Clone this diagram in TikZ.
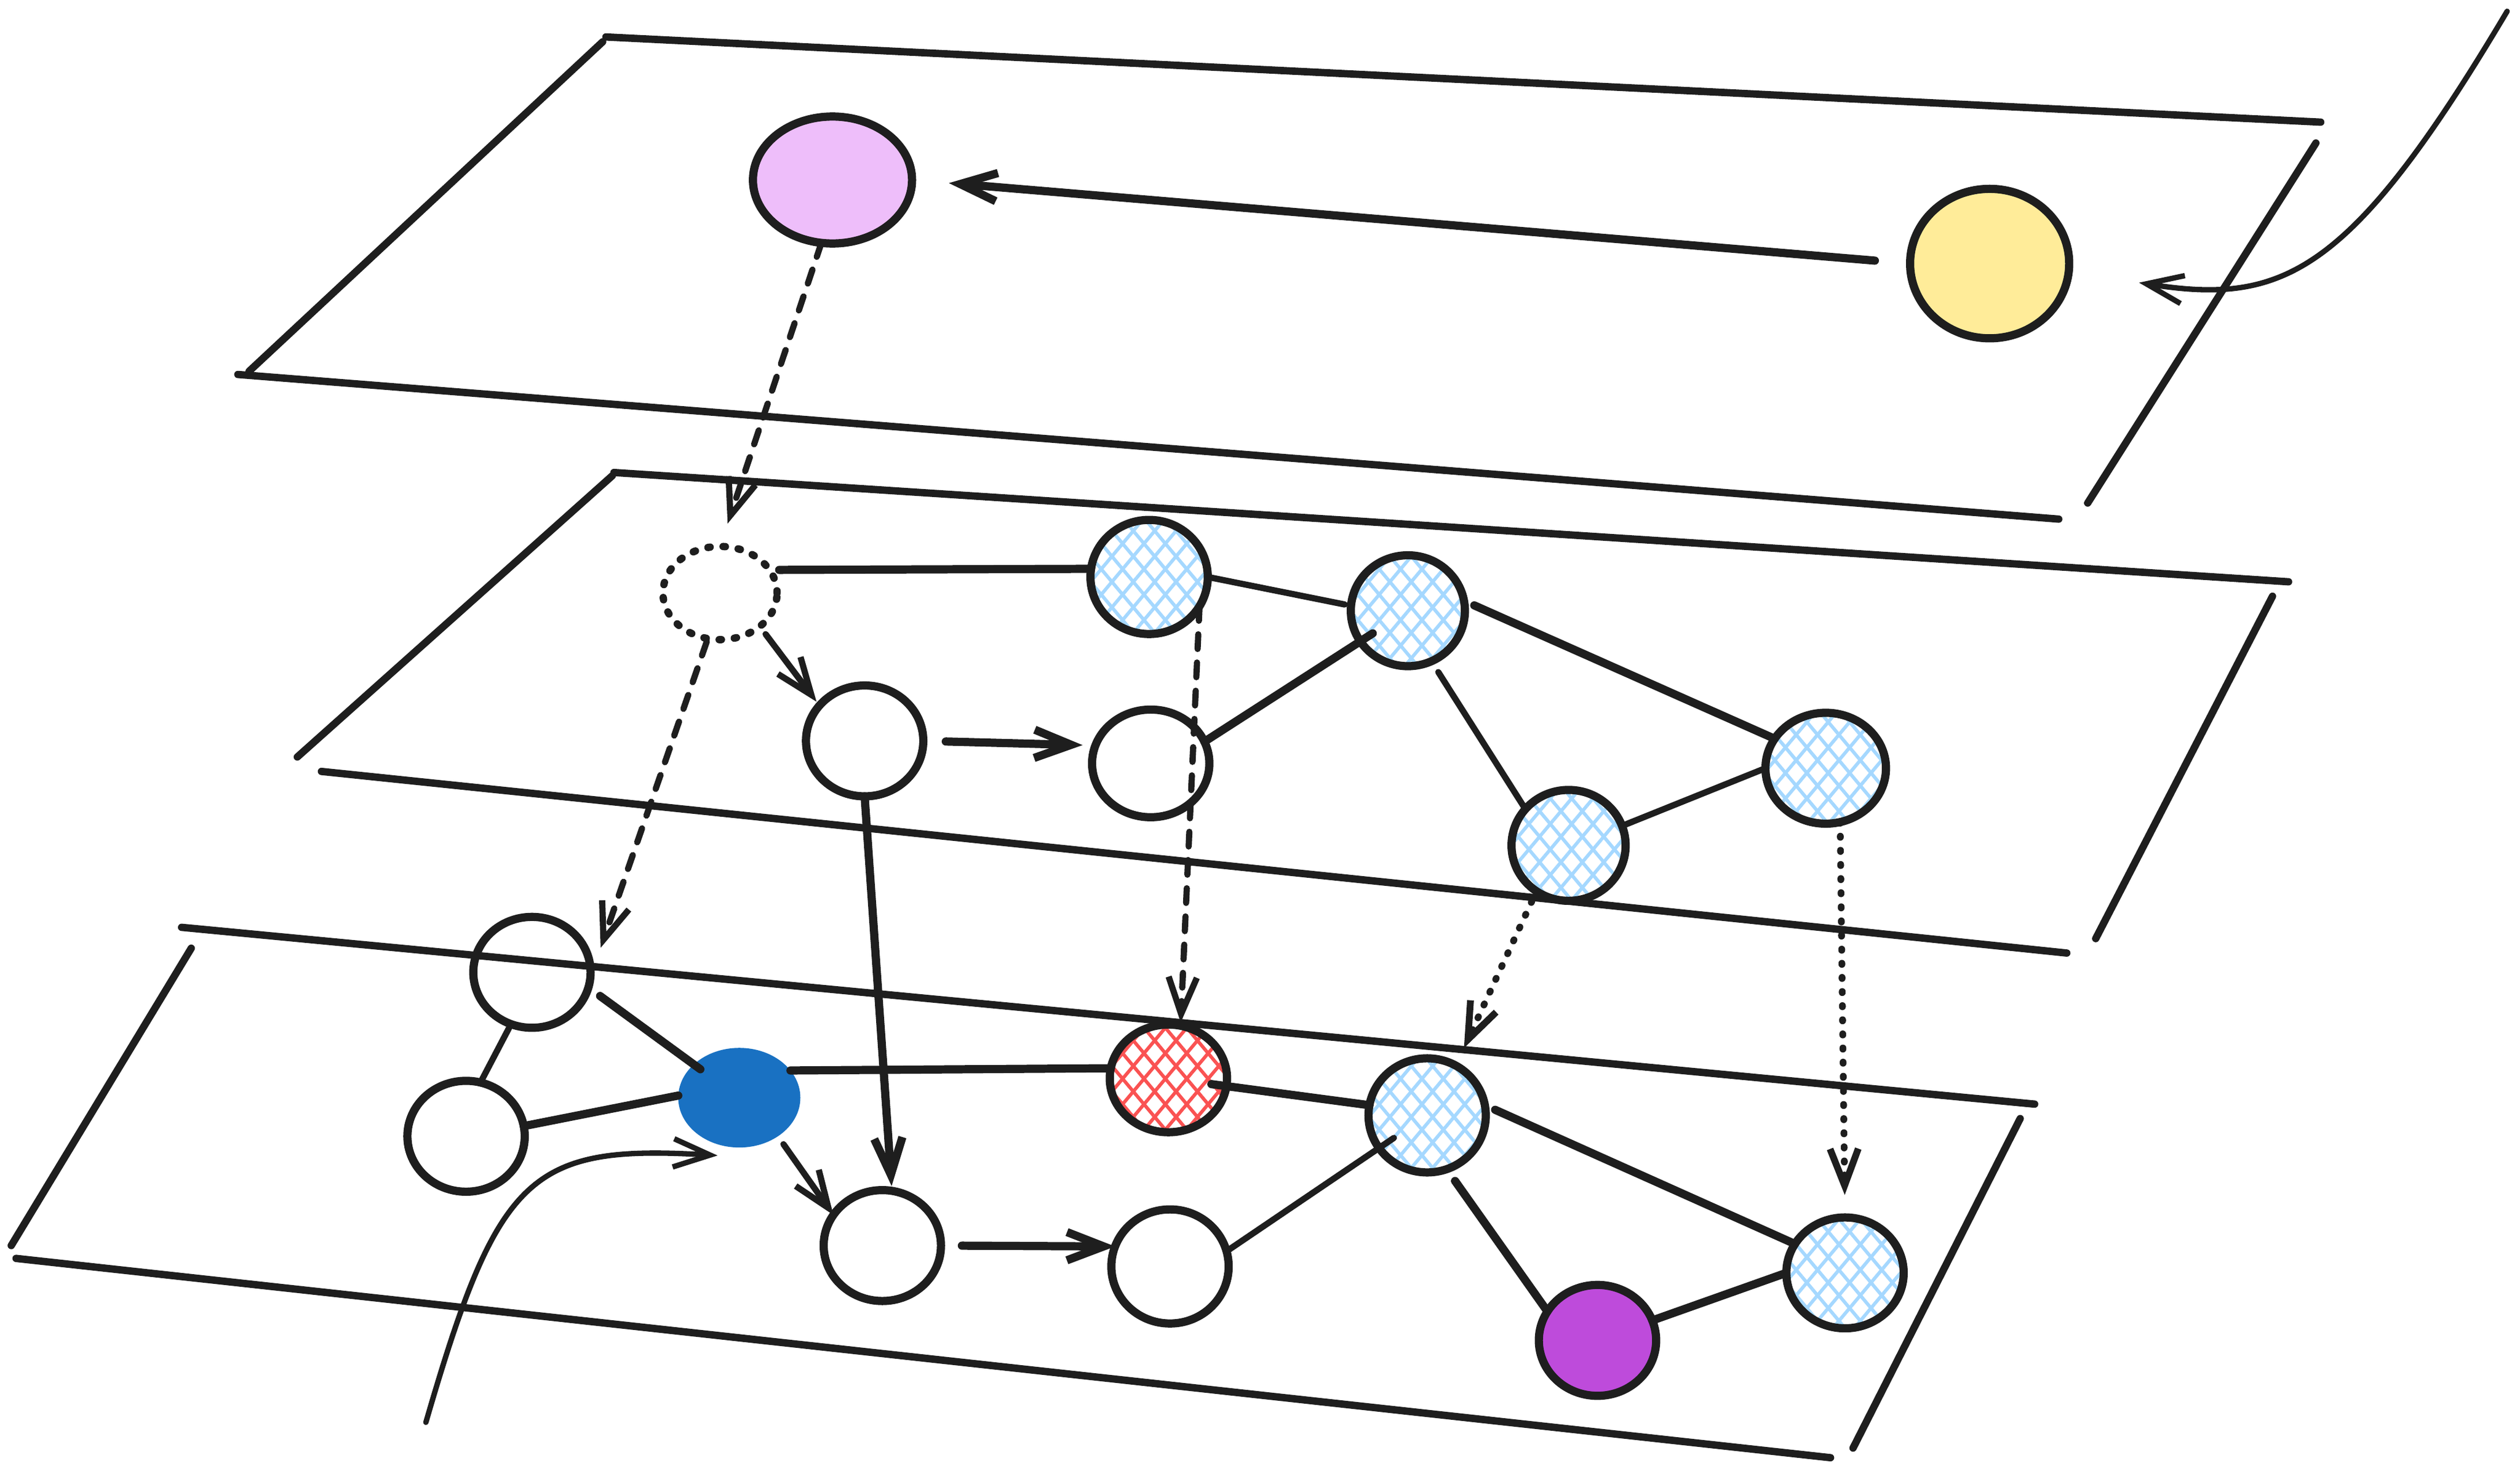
\documentclass[tikz,border=0pt]{standalone}
\usetikzlibrary{arrows.meta,shapes.geometric,patterns.meta}
\definecolor{ink}{HTML}{1E1E1E}
\definecolor{pinkfill}{HTML}{EEBEFA}
\definecolor{yellowfill}{HTML}{FFEC99}
\definecolor{bluefill}{HTML}{1971C2}
\definecolor{purplefill}{HTML}{BE4BDB}
\definecolor{hatchblue}{HTML}{A5D8FF}
\definecolor{hatchred}{HTML}{FA5252}
\begin{document}
\begin{tikzpicture}[x=0.1mm,y=-0.1mm,line cap=round,line join=round,
  planeedge/.style={draw=ink,line width=1.3pt},
  nd/.style={ellipse,draw=ink,line width=1.45pt,inner sep=0pt,outer sep=0pt},
  hatchb/.style={nd,
    preaction={pattern={Lines[angle=50,distance=2.9pt,line width=0.6pt]},pattern color=hatchblue},
    preaction={pattern={Lines[angle=-50,distance=2.9pt,line width=0.6pt]},pattern color=hatchblue}},
  hatchr/.style={nd,
    preaction={pattern={Lines[angle=50,distance=2.9pt,line width=0.6pt]},pattern color=hatchred},
    preaction={pattern={Lines[angle=-50,distance=2.9pt,line width=0.6pt]},pattern color=hatchred}},
  dotcirc/.style={nd,dash pattern=on 0.4pt off 2.3pt,line width=1.3pt},
  cn/.style={draw=ink,line width=1.1pt},
  thincn/.style={draw=ink,line width=0.95pt},
  thickcn/.style={draw=ink,line width=1.45pt},
  arrowend/.style={-{Straight Barb[length=6.5pt,width=5pt]}},
  dsh/.style={dash pattern=on 2.6pt off 2.4pt},
  dts/.style={dash pattern=on 0.2pt off 2.3pt,line width=1.2pt}]
\useasboundingbox (0,0) rectangle (1568,917);

% ---- top plane
\draw[planeedge] (377,23) -- (1444,76);
\draw[planeedge] (375,26) -- (155,231);
\draw[planeedge] (148,233) -- (1281,323);
\draw[planeedge] (1441,89) -- (1299,313);
% ---- middle plane
\draw[planeedge] (382,294) -- (1424,362);
\draw[planeedge] (381,296) -- (185,471);
\draw[planeedge] (200,480) -- (1286,593);
\draw[planeedge] (1414,371) -- (1304,584);
% ---- lower plane
\draw[planeedge] (113,577) -- (1266,687);
\draw[planeedge] (119,590) -- (7,775);
\draw[planeedge] (10,783) -- (1139,907);
\draw[planeedge] (1257,696) -- (1153,901);

% ---- nodes, top layer
\node[nd,fill=pinkfill,minimum width=9.9mm,minimum height=7.9mm] (P) at (518,112) {};
\node[nd,fill=yellowfill,minimum width=9.9mm,minimum height=9.3mm] (Y) at (1238,164) {};
% ---- nodes, middle layer
\node[dotcirc,minimum width=7.1mm,minimum height=5.8mm] (Dm) at (448,369) {};
\node[hatchb,minimum width=7.3mm,minimum height=7.1mm] (A) at (715,359) {};
\node[nd,minimum width=7.3mm,minimum height=6.9mm] (Bw) at (538,461) {};
\node[hatchb,minimum width=7.1mm,minimum height=6.9mm] (Bb) at (876,380) {};
\node[nd,minimum width=7.3mm,minimum height=6.7mm] (C) at (716,475) {};
\node[hatchb,minimum width=7.1mm,minimum height=6.9mm] (D) at (976,526) {};
\node[hatchb,minimum width=7.5mm,minimum height=6.9mm] (E) at (1136,478) {};
% ---- nodes, lower layer
\node[nd,minimum width=7.3mm,minimum height=6.9mm] (F) at (331,605) {};
\node[nd,minimum width=7.3mm,minimum height=6.9mm] (G) at (290,707) {};
\node[nd,draw=none,fill=bluefill,minimum width=7.6mm,minimum height=6.2mm] (H) at (460,683) {};
\node[hatchr,minimum width=7.3mm,minimum height=6.7mm] (I) at (727,671) {};
\node[hatchb,minimum width=7.3mm,minimum height=7.1mm] (J) at (888,694) {};
\node[nd,minimum width=7.3mm,minimum height=6.9mm] (K) at (549,775) {};
\node[nd,minimum width=7.3mm,minimum height=7.1mm] (L) at (728,788) {};
\node[nd,fill=purplefill,minimum width=7.3mm,minimum height=6.9mm] (M) at (994,834) {};
\node[hatchb,minimum width=7.3mm,minimum height=6.9mm] (N) at (1148,792) {};

% ---- free ends of the two curved arrows
\coordinate (ystart) at (1560,7);
\coordinate (hstart) at (265,885);

% ---- top layer connectors
\draw[thickcn,arrowend,shorten <=2.2mm,shorten >=2.3mm] (Y.west) -- (P.east);
\draw[thincn,arrowend] (ystart) .. controls (1462,172) and (1420,190) .. ([xshift=4.4mm,yshift=-0.5mm]Y.-8);
\draw[cn,dsh,arrowend,shorten >=1.5mm] (P.-100) -- (Dm.north);

% ---- middle layer connectors
\draw[thickcn,shorten <=0.6mm] (Dm.25) -- (A.172);
\draw[cn,arrowend,shorten <=0.6mm,shorten >=0.3mm] (Dm.-40) -- (Bw.142);
\draw[thickcn,arrowend,shorten <=1.4mm,shorten >=0.8mm] (Bw.east) -- (C.162);
\draw[cn,shorten >=0.4mm] (A.east) -- (Bb.175);
\draw[thickcn,shorten >=2.6mm] (C.22) -- (Bb.center);
\draw[thickcn,shorten <=0.7mm] (Bb.10) -- (E.150);
\draw[cn,shorten <=0.8mm] (Bb.-65) -- (D.140);
\draw[cn] (D.20) -- (E.west);

% ---- between layers
\draw[cn,dsh,arrowend,shorten <=0.2mm] (Dm.-105) -- ([xshift=1mm]F.25);
\draw[cn,dsh,arrowend,shorten >=0.2mm] (A.-30) -- (I.77);
\draw[thickcn,arrowend,shorten >=0.3mm] (Bw.south) -- (K.80);
\draw[ink,dts,arrowend,shorten <=0.7mm,shorten >=1.2mm] (D.-125) -- (J.60);
\draw[ink,dts,arrowend,shorten >=1.4mm] (E.-75) -- (N.north);

% ---- lower layer connectors
\draw[cn] (F.-112) -- (G.75);
\draw[thickcn,shorten <=0.9mm,shorten >=3mm] (F.-15) -- (H.center);
\draw[thickcn] (G.10) -- (H.178);
\draw[thickcn] (H.28) -- (I.170);
\draw[cn,arrowend,shorten <=0.6mm] (H.-45) -- (K.148);
\draw[thincn,arrowend] (hstart) .. controls (310,730) and (330,712) .. ([yshift=-0.7mm]H.-115);
\draw[thickcn,arrowend,shorten <=1.3mm] (K.east) -- (L.160);
\draw[thickcn,shorten <=2.7mm] (I.center) -- (J.170);
\draw[cn,shorten <=2.5mm] (J.center) -- (L.15);
\draw[thickcn,shorten <=0.7mm] (J.10) -- (N.150);
\draw[thickcn,shorten <=0.9mm] (J.-70) -- (M.150);
\draw[thickcn] (M.20) -- (N.west);
\end{tikzpicture}
\end{document}
